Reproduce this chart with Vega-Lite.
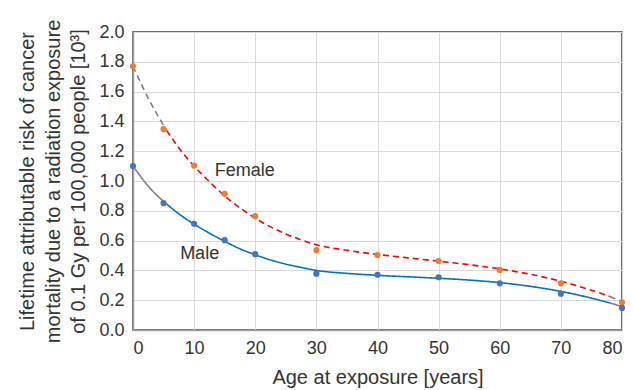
{
  "$schema": "https://vega.github.io/schema/vega-lite/v6.json",
  "autosize": "none",
  "width": 489,
  "height": 298,
  "padding": {"left": 133, "top": 32, "right": 11, "bottom": 60},
  "background": "white",
  "config": {
    "font": "Liberation Sans",
    "view": {"stroke": "#404040", "strokeWidth": 1.5},
    "axis": {
      "labelFont": "Liberation Sans",
      "titleFont": "Liberation Sans",
      "labelColor": "#333333",
      "titleColor": "#333333",
      "labelFontSize": 18,
      "titleFontSize": 20,
      "titleFontWeight": "normal",
      "gridColor": "#d9d9d9",
      "gridWidth": 1,
      "domainColor": "#a0a0a0",
      "domainWidth": 1.5,
      "ticks": false,
      "zindex": 1
    }
  },
  "datasets": {
    "pts": [
      {"age": 0, "risk": 1.77, "sex": "Female"},
      {"age": 5, "risk": 1.348, "sex": "Female"},
      {"age": 10, "risk": 1.104, "sex": "Female"},
      {"age": 15, "risk": 0.914, "sex": "Female"},
      {"age": 20, "risk": 0.764, "sex": "Female"},
      {"age": 30, "risk": 0.537, "sex": "Female"},
      {"age": 40, "risk": 0.503, "sex": "Female"},
      {"age": 50, "risk": 0.463, "sex": "Female"},
      {"age": 60, "risk": 0.403, "sex": "Female"},
      {"age": 70, "risk": 0.313, "sex": "Female"},
      {"age": 80, "risk": 0.186, "sex": "Female"},
      {"age": 0, "risk": 1.10, "sex": "Male"},
      {"age": 5, "risk": 0.851, "sex": "Male"},
      {"age": 10, "risk": 0.713, "sex": "Male"},
      {"age": 15, "risk": 0.603, "sex": "Male"},
      {"age": 20, "risk": 0.509, "sex": "Male"},
      {"age": 30, "risk": 0.378, "sex": "Male"},
      {"age": 40, "risk": 0.371, "sex": "Male"},
      {"age": 50, "risk": 0.354, "sex": "Male"},
      {"age": 60, "risk": 0.313, "sex": "Male"},
      {"age": 70, "risk": 0.244, "sex": "Male"},
      {"age": 80, "risk": 0.148, "sex": "Male"}
    ],
    "fit": [
      {"age": 0, "risk": 1.77, "sex": "Female", "seg": "F-start"},
      {"age": 2.5, "risk": 1.555, "sex": "Female", "seg": "F-start"},
      {"age": 5.5, "risk": 1.34, "sex": "Female", "seg": "F-start"},
      {"age": 5.5, "risk": 1.34, "sex": "Female", "seg": "F-main"},
      {"age": 7.5, "risk": 1.222, "sex": "Female", "seg": "F-main"},
      {"age": 10, "risk": 1.10, "sex": "Female", "seg": "F-main"},
      {"age": 12.5, "risk": 0.995, "sex": "Female", "seg": "F-main"},
      {"age": 15, "risk": 0.90, "sex": "Female", "seg": "F-main"},
      {"age": 17.5, "risk": 0.82, "sex": "Female", "seg": "F-main"},
      {"age": 20, "risk": 0.75, "sex": "Female", "seg": "F-main"},
      {"age": 22.5, "risk": 0.692, "sex": "Female", "seg": "F-main"},
      {"age": 25, "risk": 0.645, "sex": "Female", "seg": "F-main"},
      {"age": 27.5, "risk": 0.605, "sex": "Female", "seg": "F-main"},
      {"age": 30, "risk": 0.572, "sex": "Female", "seg": "F-main"},
      {"age": 35, "risk": 0.535, "sex": "Female", "seg": "F-main"},
      {"age": 40, "risk": 0.507, "sex": "Female", "seg": "F-main"},
      {"age": 45, "risk": 0.484, "sex": "Female", "seg": "F-main"},
      {"age": 50, "risk": 0.462, "sex": "Female", "seg": "F-main"},
      {"age": 55, "risk": 0.438, "sex": "Female", "seg": "F-main"},
      {"age": 60, "risk": 0.41, "sex": "Female", "seg": "F-main"},
      {"age": 65, "risk": 0.374, "sex": "Female", "seg": "F-main"},
      {"age": 70, "risk": 0.327, "sex": "Female", "seg": "F-main"},
      {"age": 75, "risk": 0.267, "sex": "Female", "seg": "F-main"},
      {"age": 78, "risk": 0.225, "sex": "Female", "seg": "F-main"},
      {"age": 78, "risk": 0.225, "sex": "Female", "seg": "F-end"},
      {"age": 80, "risk": 0.192, "sex": "Female", "seg": "F-end"},
      {"age": 0, "risk": 1.10, "sex": "Male", "seg": "M-start"},
      {"age": 2.5, "risk": 0.965, "sex": "Male", "seg": "M-start"},
      {"age": 5.5, "risk": 0.845, "sex": "Male", "seg": "M-start"},
      {"age": 5.5, "risk": 0.845, "sex": "Male", "seg": "M-main"},
      {"age": 7.5, "risk": 0.78, "sex": "Male", "seg": "M-main"},
      {"age": 10, "risk": 0.71, "sex": "Male", "seg": "M-main"},
      {"age": 12.5, "risk": 0.65, "sex": "Male", "seg": "M-main"},
      {"age": 15, "risk": 0.595, "sex": "Male", "seg": "M-main"},
      {"age": 17.5, "risk": 0.545, "sex": "Male", "seg": "M-main"},
      {"age": 20, "risk": 0.505, "sex": "Male", "seg": "M-main"},
      {"age": 22.5, "risk": 0.47, "sex": "Male", "seg": "M-main"},
      {"age": 25, "risk": 0.442, "sex": "Male", "seg": "M-main"},
      {"age": 27.5, "risk": 0.42, "sex": "Male", "seg": "M-main"},
      {"age": 30, "risk": 0.40, "sex": "Male", "seg": "M-main"},
      {"age": 35, "risk": 0.38, "sex": "Male", "seg": "M-main"},
      {"age": 40, "risk": 0.367, "sex": "Male", "seg": "M-main"},
      {"age": 45, "risk": 0.357, "sex": "Male", "seg": "M-main"},
      {"age": 50, "risk": 0.347, "sex": "Male", "seg": "M-main"},
      {"age": 55, "risk": 0.335, "sex": "Male", "seg": "M-main"},
      {"age": 60, "risk": 0.318, "sex": "Male", "seg": "M-main"},
      {"age": 65, "risk": 0.293, "sex": "Male", "seg": "M-main"},
      {"age": 70, "risk": 0.259, "sex": "Male", "seg": "M-main"},
      {"age": 75, "risk": 0.214, "sex": "Male", "seg": "M-main"},
      {"age": 78, "risk": 0.182, "sex": "Male", "seg": "M-main"},
      {"age": 78, "risk": 0.182, "sex": "Male", "seg": "M-end"},
      {"age": 80, "risk": 0.157, "sex": "Male", "seg": "M-end"}
    ],
    "labels": [
      {"age": 18.3, "risk": 1.064, "text": "Female"},
      {"age": 10.9, "risk": 0.513, "text": "Male"}
    ]
  },
  "encoding": {
    "x": {
      "field": "age", "type": "quantitative",
      "scale": {"domain": [0, 80], "nice": false},
      "axis": {"values": [0,10,20,30,40,50,60,70,80], "title": "Age at exposure [years]", "labelPadding": 9, "titlePadding": 10, "grid": true}
    },
    "y": {
      "field": "risk", "type": "quantitative",
      "scale": {"domain": [0, 2], "nice": false},
      "axis": {
        "values": [0,0.2,0.4,0.6,0.8,1.0,1.2,1.4,1.6,1.8,2.0],
        "format": ".1f",
        "title": ["Lifetime attributable risk of cancer", "mortality due to a radiation exposure", "of 0.1 Gy per 100,000 people [10³]"],
        "titleLineHeight": 25.5,
        "labelPadding": 9,
        "titlePadding": 10,
        "grid": true
      }
    }
  },
  "layer": [
    {
      "data": {"name": "fit"},
      "mark": {"type": "line", "interpolate": "monotone", "strokeWidth": 1.6},
      "encoding": {
        "detail": {"field": "seg"},
        "color": {
          "field": "seg", "type": "nominal", "legend": null,
          "scale": {"domain": ["F-start","F-main","F-end","M-start","M-main","M-end"], "range": ["#7f7f7f","#ff0000","#7f7f7f","#7f7f7f","#0070c0","#7f7f7f"]}
        },
        "strokeDash": {
          "field": "sex", "type": "nominal", "legend": null,
          "scale": {"domain": ["Female","Male"], "range": [[6,4],[1,0]]}
        }
      }
    },
    {
      "data": {"name": "pts"},
      "mark": {"type": "circle", "size": 38, "opacity": 1},
      "encoding": {
        "color": {
          "field": "sex", "type": "nominal", "legend": null,
          "scale": {"domain": ["Female","Male"], "range": ["#ed7d31","#4472c4"]}
        }
      }
    },
    {
      "data": {"name": "labels"},
      "mark": {"type": "text", "fontSize": 18, "color": "#333333", "align": "center", "baseline": "middle", "font": "Liberation Sans"},
      "encoding": {"text": {"field": "text"}}
    }
  ],
  "resolve": {"scale": {"color": "independent"}}
}
